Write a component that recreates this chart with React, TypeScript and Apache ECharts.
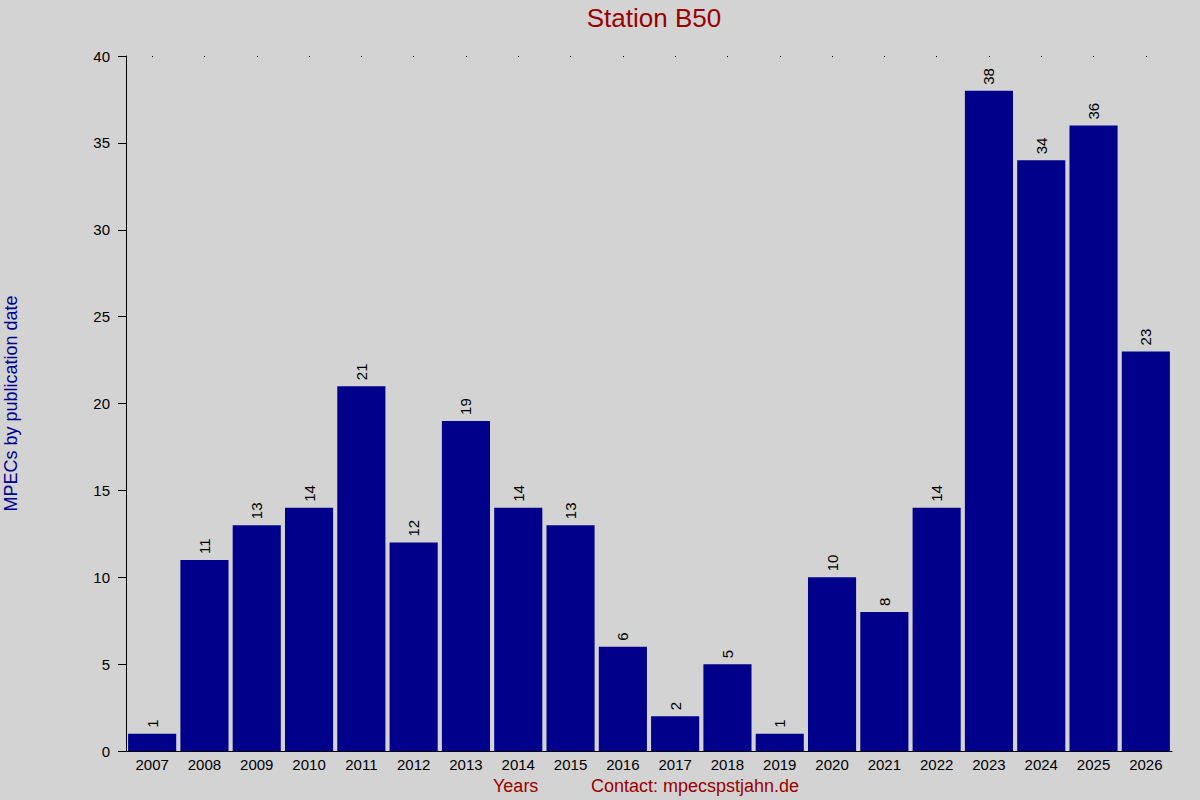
import React, { useEffect, useRef } from "react";
import * as echarts from "echarts";

const years = ["2007","2008","2009","2010","2011","2012","2013","2014","2015","2016","2017","2018","2019","2020","2021","2022","2023","2024","2025","2026"];
const counts = [1, 11, 13, 14, 21, 12, 19, 14, 13, 6, 2, 5, 1, 10, 8, 14, 38, 34, 36, 23];

const FONT = "Liberation Sans, Arial, sans-serif";

export default function App() {
  const ref = useRef<HTMLDivElement>(null);
  useEffect(() => {
    if (!ref.current) return;
    const chart = echarts.init(ref.current, undefined, { renderer: "svg" });
    chart.setOption({
      animation: false,
      backgroundColor: "#d3d3d3",
      textStyle: { fontFamily: FONT },
      title: {
        text: "Station B50",
        left: 649,
        textAlign: "center",
        top: 0,
        textStyle: { color: "#990000", fontSize: 26, fontWeight: "normal", fontFamily: FONT },
      },
      grid: { left: 126, right: 28, top: 56, bottom: 49, containLabel: false, outerBoundsMode: "none" },
      xAxis: [
        {
          type: "category",
          data: years,
          axisLine: { show: true, lineStyle: { color: "#000", width: 1 } },
          axisTick: { show: false },
          axisLabel: { color: "#000", fontSize: 15, margin: 6, fontFamily: FONT },
        },
        {
          type: "category",
          data: years,
          position: "top",
          axisLine: { show: false },
          axisTick: { show: true, alignWithLabel: true, inside: true, length: 1, lineStyle: { color: "#000", width: 1 } },
          axisLabel: { show: false },
        },
      ],
      yAxis: {
        type: "value",
        min: 0,
        max: 40,
        interval: 5,
        axisLine: { show: true, lineStyle: { color: "#000", width: 1 } },
        axisTick: { show: true, length: 8, lineStyle: { color: "#000" } },
        axisLabel: { color: "#000", fontSize: 15, margin: 16, fontFamily: FONT },
        splitLine: { show: false },
        name: "MPECs by publication date",
        nameLocation: "middle",
        nameGap: 106,
        nameTextStyle: { color: "#00008b", fontSize: 18, fontFamily: FONT },
      },
      graphic: [
        {
          type: "text",
          left: 493,
          top: 777,
          style: { text: "Years", fill: "#990000", fontSize: 18, fontFamily: FONT },
        },
        {
          type: "text",
          left: 591,
          top: 777,
          style: { text: "Contact: mpecspstjahn.de", fill: "#990000", fontSize: 18, fontFamily: FONT },
        },
      ],
      series: [
        {
          type: "bar",
          data: counts,
          barCategoryGap: "8%",
          itemStyle: { color: "#00008b" },
          label: {
            show: true,
            position: "top",
            rotate: 90,
            align: "left",
            verticalAlign: "middle",
            distance: 6,
            color: "#000",
            fontSize: 15,
            fontFamily: FONT,
          },
        },
      ],
    });
    return () => chart.dispose();
  }, []);
  return <div ref={ref} style={{ width: 1200, height: 800, position: "absolute", left: 0, top: 0 }} />;
}
